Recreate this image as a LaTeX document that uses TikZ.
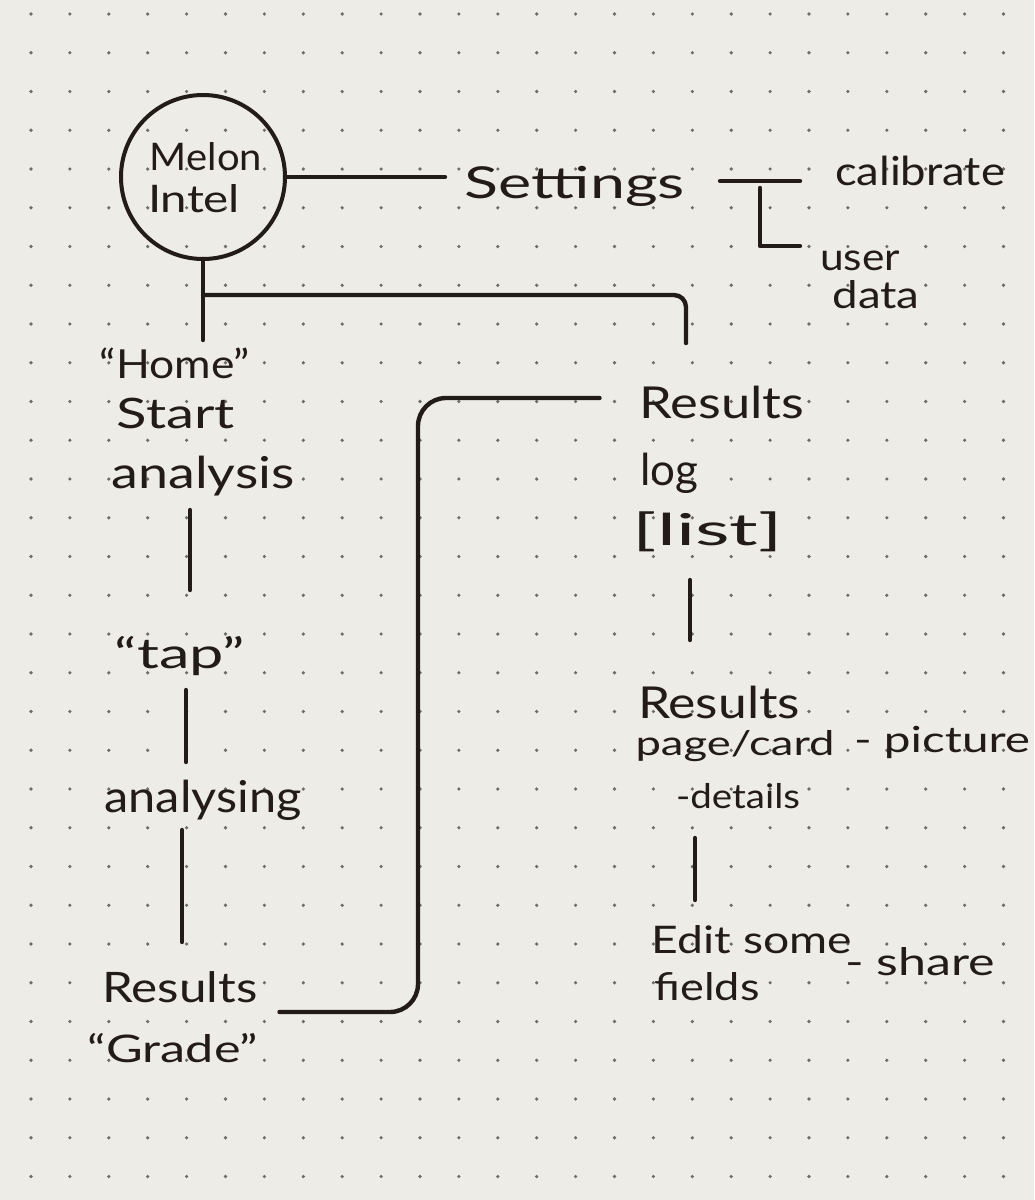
\documentclass[tikz,border=0pt]{standalone}
\usepackage{fontspec}
\setmainfont{Lato}
\usepackage{graphicx}
\usetikzlibrary{calc}
\definecolor{paper}{HTML}{EEECE7}
\definecolor{ink}{HTML}{221B19}
\definecolor{dotc}{HTML}{6E6C69}
\newcommand{\hw}[3]{\fontsize{#2}{#2}\selectfont\resizebox{#1pt}{\height}{#3}}
\tikzset{
  hand/.style={inner sep=0pt, outer sep=0pt, anchor=base, text=ink},
  pen/.style={draw=ink, line width=4.4pt, line cap=round, line join=round},
}
\begin{document}
\begin{tikzpicture}[x=1pt,y=-1pt]
\fill[paper] (0,0) rectangle (1034,1200);
\useasboundingbox (0,0) rectangle (1034,1200);
% dot grid of the paper
\foreach \i in {0,...,25}{\foreach \j in {0,...,30}{\fill[dotc] (31+\i*38.9, 14+\j*38.75) circle (1.8pt);}}
% column coordinates for vertical strokes
\coordinate (c1) at (190,0);
\coordinate (c2) at (186,0);
\coordinate (c3) at (182,0);
\coordinate (c4) at (690,0);
\coordinate (c5) at (695,0);
\coordinate (rcol) at (686,0);
\coordinate (bendcol) at (418,0);
% circle
\node[draw=ink, line width=4pt, circle, minimum size=164pt, inner sep=0pt, outer sep=0pt] (melon) at (203,177) {};
\node[hand] (melonT) at (206,170) {\hw{112}{38pt}{Melon}};
\node[hand] (intelT) at (194,212) {\hw{92}{38pt}{Intel}};
% settings branch
\node[hand] (settings) at (575,198) {\hw{220}{44pt}{Settings}};
\node[hand] (calib) at (920,185) {\hw{170}{40pt}{calibrate}};
\node[hand] (user) at (860,270) {\hw{80}{38pt}{user}};
\node[hand] (data) at (876,308) {\hw{87}{38pt}{data}};
% left column
\node[hand] (home) at (175,378) {\hw{150}{40pt}{“Home”}};
\node[hand] (start) at (176,428) {\hw{118}{42pt}{Start}};
\node[hand] (analysis) at (203,488) {\hw{183}{44pt}{analysis}};
\node[hand] (tap) at (180,668) {\hw{130}{42pt}{“tap”}};
\node[hand] (analysing) at (203,812) {\hw{197}{44pt}{analysing}};
\node[hand] (resL) at (180,1002) {\hw{155}{42pt}{Results}};
\node[hand] (grade) at (173,1062) {\hw{170}{38pt}{“Grade”}};
% right column
\node[hand] (resR) at (722,418) {\hw{165}{44pt}{Results}};
\node[hand] (log) at (669,485) {\hw{58}{44pt}{log}};
\node[hand] (list) at (708,545) {\hw{150}{44pt}{[list]}};
\node[hand] (res2) at (719,718) {\hw{162}{44pt}{Results}};
\node[hand] (page) at (735,755) {\hw{199}{34pt}{page/card}};
\node[hand] (picture) at (942,752) {\hw{176}{36pt}{- picture}};
\node[hand] (details) at (738,808) {\hw{124}{34pt}{-details}};
\node[hand] (edit) at (752,953) {\hw{200}{38pt}{Edit some}};
\node[hand] (fields) at (707,1000) {\hw{105}{38pt}{fields}};
\node[hand] (share) at (920,975) {\hw{150}{38pt}{- share}};
% connectors
\draw[pen] (melon.east) -- ($(melon.east -| settings.base west)+(-20,0)$);
\draw[pen] ($(settings.base east)+(35,-17)$) -- ($(settings.base east -| calib.base west)+(-35,-17)$);
\coordinate (sj) at ($(settings.base east)!0.5!(settings.base east -| calib.base west)+(0,-10)$);
\draw[pen] (sj) |- ($(user.base west)+(-20,-24)$);
\draw[pen] (melon.south) -- ($(melon.south |- home.base)+(0,-38)$);
\coordinate (mj) at ($(melon.south)+(0,36)$);
\draw[pen, rounded corners=12pt] (mj) -- (mj -| rcol) -- ($(rcol |- resR.base)+(0,-75)$);
\draw[pen] ($(analysis.base -| c1)+(0,22)$) -- ($(tap.base -| c1)+(0,-78)$);
\draw[pen] ($(tap.base -| c2)+(0,22)$) -- ($(analysing.base -| c2)+(0,-50)$);
\draw[pen] ($(analysing.base -| c3)+(0,18)$) -- ($(resL.base -| c3)+(0,-60)$);
\coordinate (ba) at ($(resL.base east)+(22,10)$);
\coordinate (bb) at ($(resR.base west)+(-40,-20)$);
\draw[pen, rounded corners=28pt] (ba) -- (ba -| bendcol) -- (bendcol |- bb) -- (bb);
\draw[pen] ($(list.base -| c4)+(0,35)$) -- ($(res2.base -| c4)+(0,-78)$);
\draw[pen] ($(details.base -| c5)+(0,30)$) -- ($(edit.base -| c5)+(0,-53)$);
\end{tikzpicture}
\end{document}
